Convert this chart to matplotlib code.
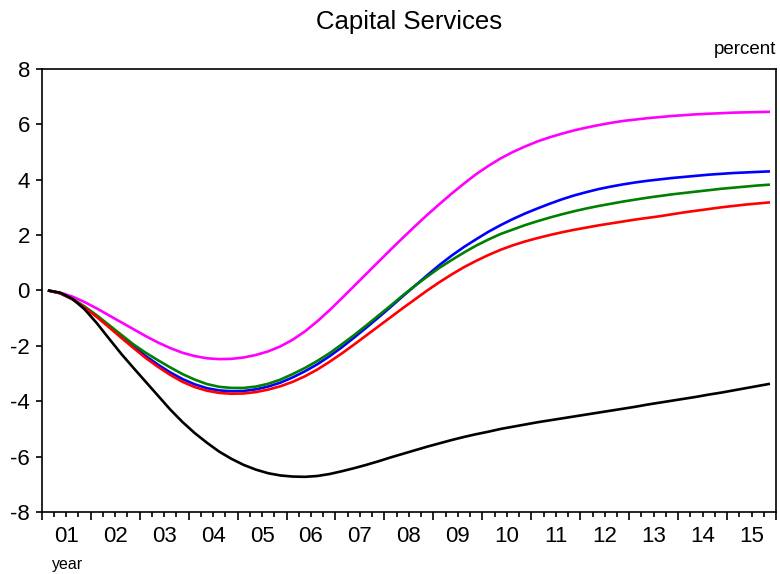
import numpy as np
import matplotlib
matplotlib.use("Agg")
import matplotlib.pyplot as plt
import matplotlib.transforms as mtransforms

plt.rcParams['font.family'] = ['Liberation Sans', 'DejaVu Sans']
plt.rcParams['axes.unicode_minus'] = False

# quarterly responses, 2001Q1 .. 2015Q4 (percent)
years = ["01", "02", "03", "04", "05", "06", "07", "08",
         "09", "10", "11", "12", "13", "14", "15"]

magenta = [0, -0.08, -0.22, -0.42, -0.65, -0.9, -1.15, -1.4, -1.65, -1.88,
           -2.08, -2.25, -2.37, -2.45, -2.48, -2.47, -2.42, -2.33, -2.2, -2.02,
           -1.78, -1.48, -1.12, -0.72, -0.29, 0.15, 0.59, 1.03, 1.47, 1.9,
           2.32, 2.73, 3.12, 3.5, 3.86, 4.2, 4.5, 4.77, 5.0, 5.2,
           5.38, 5.53, 5.66, 5.78, 5.88, 5.97, 6.05, 6.12, 6.17, 6.22,
           6.26, 6.3, 6.33, 6.36, 6.38, 6.4, 6.42, 6.43, 6.44, 6.45]

blue = [0, -0.1, -0.31, -0.6, -0.93, -1.29, -1.66, -2.02, -2.37, -2.68,
        -2.96, -3.2, -3.39, -3.53, -3.61, -3.64, -3.63, -3.57, -3.47, -3.33,
        -3.14, -2.92, -2.67, -2.38, -2.06, -1.71, -1.35, -0.98, -0.6, -0.21,
        0.17, 0.55, 0.92, 1.26, 1.57, 1.85, 2.12, 2.36, 2.58, 2.78,
        2.96, 3.13, 3.29, 3.43, 3.55, 3.66, 3.75, 3.83, 3.9, 3.96,
        4.01, 4.06, 4.1, 4.14, 4.18, 4.21, 4.24, 4.26, 4.28, 4.3]

green = [0, -0.1, -0.3, -0.58, -0.9, -1.25, -1.6, -1.95, -2.25, -2.52,
         -2.78, -3.02, -3.22, -3.38, -3.48, -3.52, -3.52, -3.47, -3.37, -3.22,
         -3.02, -2.8, -2.55, -2.27, -1.95, -1.62, -1.27, -0.91, -0.55, -0.18,
         0.17, 0.5, 0.82, 1.1, 1.37, 1.62, 1.84, 2.04, 2.2, 2.36,
         2.5, 2.63, 2.75, 2.86, 2.96, 3.05, 3.13, 3.21, 3.28, 3.35,
         3.41, 3.47, 3.52, 3.57, 3.62, 3.67, 3.71, 3.75, 3.79, 3.82]

red = [0, -0.1, -0.32, -0.62, -0.96, -1.33, -1.71, -2.08, -2.44, -2.76,
       -3.05, -3.3, -3.49, -3.62, -3.7, -3.73, -3.72, -3.67, -3.58, -3.46,
       -3.3, -3.1, -2.86, -2.58, -2.28, -1.96, -1.63, -1.3, -0.97, -0.64,
       -0.32, 0.0, 0.3, 0.58, 0.84, 1.07, 1.28, 1.47, 1.63, 1.77,
       1.89, 2.0, 2.1, 2.19, 2.27, 2.35, 2.42, 2.49, 2.56, 2.62,
       2.68, 2.75, 2.82, 2.88, 2.94, 3.0, 3.05, 3.1, 3.14, 3.18]

black = [0, -0.08, -0.3, -0.68, -1.18, -1.74, -2.29, -2.8, -3.3, -3.8,
         -4.3, -4.75, -5.15, -5.5, -5.82, -6.08, -6.3, -6.47, -6.6, -6.68,
         -6.72, -6.73, -6.7, -6.63, -6.53, -6.42, -6.3, -6.17, -6.03, -5.9,
         -5.77, -5.64, -5.52, -5.4, -5.29, -5.19, -5.1, -5.0, -4.92, -4.84,
         -4.76, -4.69, -4.62, -4.55, -4.48, -4.41, -4.34, -4.27, -4.2, -4.12,
         -4.05, -3.98, -3.91, -3.84, -3.76, -3.69, -3.61, -3.53, -3.45, -3.37]

series = [(magenta, "#ff00ff"), (blue, "#0000ff"), (green, "#008000"),
          (red, "#ff0000"), (black, "#000000")]

nq = len(black)
x = np.arange(nq) + 0.5

fig = plt.figure(figsize=(7.8, 5.74), dpi=100)
ax = fig.add_axes([0.0535, 0.108, 0.9415, 0.772])

for vals, col in series:
    ax.plot(x, vals, color=col, lw=1.9, solid_capstyle='butt')

ax.set_xlim(0, nq)
ax.set_ylim(-8, 8)
ax.set_yticks(range(-8, 9, 2))
ax.set_xticks(np.arange(0, nq + 1, 4))
ax.set_xticks(np.arange(0, nq + 1, 1), minor=True)
ax.set_xticklabels([])
ax.tick_params(axis='x', which='major', direction='out', length=6, width=1.2, top=False)
ax.tick_params(axis='x', which='minor', direction='out', length=3.5, width=1.2, top=False)
ax.tick_params(axis='y', direction='out', length=4.5, width=1.2, labelsize=16, pad=4, right=False)
for sp in ax.spines.values():
    sp.set_linewidth(1.2)

trans = mtransforms.blended_transform_factory(ax.transData, ax.transAxes)
for k, lab in enumerate(years):
    ax.text(4 * k + 2, -0.032, lab, transform=trans, ha='center', va='top', fontsize=16)

fig.text(0.525, 1 - 22 / 574, "Capital Services", ha='center', va='center', fontsize=18.5)
fig.text(0.995, 1 - 50 / 574, "percent", ha='right', va='center', fontsize=13.5)
fig.text(0.067, 1 - 564 / 574, "year", ha='left', va='center', fontsize=11.5)

fig.savefig("out.png", dpi=100)
